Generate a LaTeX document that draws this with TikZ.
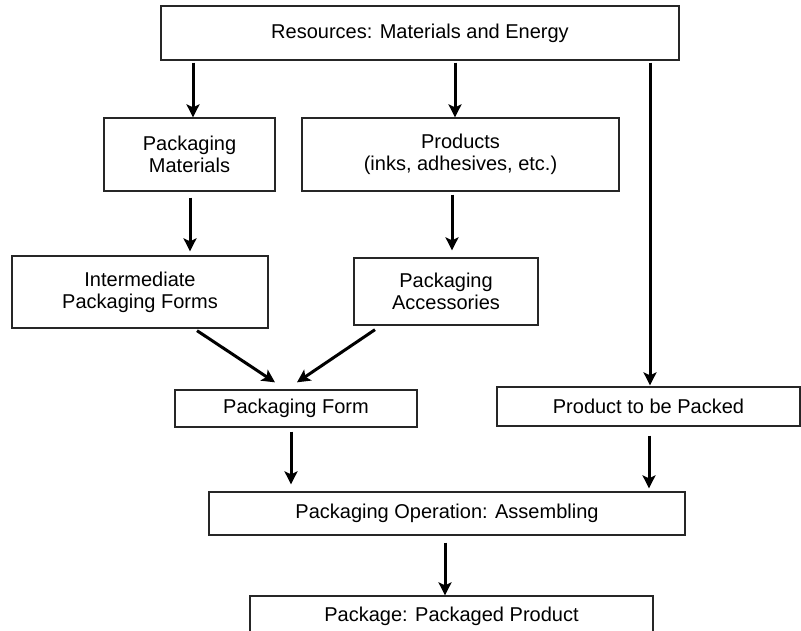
\documentclass[tikz,border=0pt]{standalone}
\usepackage{fontspec}
\setmainfont{Liberation Sans}
\usetikzlibrary{arrows.meta}

\begin{document}
\begin{tikzpicture}[x=1pt,y=-1pt,
  box/.style={draw=black!85, line width=1.3pt, rectangle, inner sep=0pt,
    align=center, font=\fontsize{20}{22}\selectfont},
  arr/.style={line width=3pt, -{Stealth[length=13pt,width=13pt,inset=3pt]}}]
\useasboundingbox (0,0) rectangle (801,631);
\clip (0,0) rectangle (801,631);

% boxes (centre, width, height)
\node[box, minimum width=518pt, minimum height=54pt] (res)  at (420,33)    {Resources: Materials and Energy};
\node[box, minimum width=171pt, minimum height=73pt] (pm)   at (189.5,154.5) {Packaging\\Materials};
\node[box, minimum width=317pt, minimum height=73pt] (prod) at (460.5,154.5) {Products\\(inks, adhesives, etc.)};
\node[box, minimum width=256pt, minimum height=72pt] (ipf)  at (140,292)   {Intermediate\\Packaging Forms};
\node[box, minimum width=184pt, minimum height=67pt] (acc)  at (446,291.5) {Packaging\\Accessories};
\node[box, minimum width=242pt, minimum height=37pt] (pf)   at (296,408.5) {Packaging Form};
\node[box, minimum width=303pt, minimum height=39pt] (ptp)  at (648.5,406.5) {Product to be Packed};
\node[box, minimum width=476pt, minimum height=43pt] (asm)  at (447,513.5) {Packaging Operation: Assembling};
\node[box, minimum width=403pt, minimum height=40pt] (pkg)  at (451.5,616) {Package: Packaged Product};

% connectors
\draw[arr, shorten <=2pt] ([xshift=-227pt]res.south) -- ([xshift=3.5pt]pm.north);
\draw[arr, shorten <=2pt] ([xshift=35pt]res.south) -- ([xshift=-5.5pt]prod.north);
\draw[arr, shorten <=2pt, shorten >=1pt] ([xshift=230pt]res.south) -- ([xshift=1.5pt]ptp.north);
\draw[arr, shorten <=6pt, shorten >=4pt] ([xshift=0.5pt]pm.south) -- ([xshift=50pt]ipf.north);
\draw[arr, shorten <=3pt, shorten >=7pt] ([xshift=-8.5pt]prod.south) -- ([xshift=6pt]acc.north);
\draw[arr] ([xshift=57pt,yshift=-2pt]ipf.south) -- ([xshift=-21pt,yshift=7pt]pf.north);
\draw[arr] ([xshift=-71pt,yshift=-4pt]acc.south) -- ([xshift=1pt,yshift=7pt]pf.north);
\draw[arr, shorten <=4pt, shorten >=7pt] ([xshift=-5pt]pf.south) -- ([xshift=-156pt]asm.north);
\draw[arr, shorten <=9pt, shorten >=3pt] ([xshift=0.5pt]ptp.south) -- ([xshift=202pt]asm.north);
\draw[arr, shorten <=7pt] ([xshift=-2pt]asm.south) -- ([xshift=-6.5pt]pkg.north);
\end{tikzpicture}
\end{document}
